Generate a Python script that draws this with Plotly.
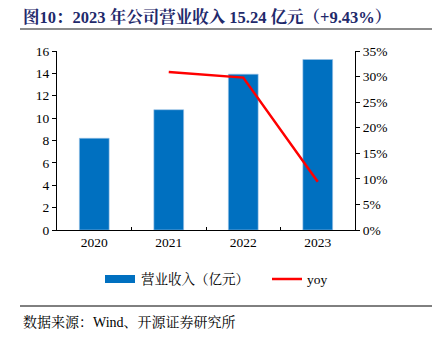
import plotly.graph_objects as go

years = ["2020", "2021", "2022", "2023"]
revenue = [8.2, 10.75, 13.93, 15.24]
yoy_years = ["2021", "2022", "2023"]
yoy = [0.309, 0.298, 0.0943]

bar_name = "营业收入（亿元）"
line_name = "yoy"
title_text = "图10：2023 年公司营业收入 15.24 亿元（+9.43%）"
source_text = "数据来源：Wind、开源证券研究所"

serif = "Liberation Serif, 'Noto Serif CJK SC', 'Noto Sans CJK SC', serif"
bar_color = "#0070C0"
line_color = "#FF0000"

fig = go.Figure()
fig.add_trace(go.Bar(
    x=years, y=revenue, name=bar_name,
    marker=dict(color=bar_color, line=dict(color="#9dc3e6", width=0.6)),
    width=0.4, yaxis="y", showlegend=False,
))
fig.add_trace(go.Scatter(
    x=yoy_years, y=yoy, name=line_name, mode="lines",
    line=dict(color=line_color, width=2.5), yaxis="y2", showlegend=False,
))

W, H = 439, 342
L, R, T, B = 57, 84, 51, 112
PW, PH = W - L - R, H - T - B


def px(x):
    return (x - L) / PW


def py(y):
    return (H - B - y) / PH


fig.update_layout(
    width=W, height=H,
    margin=dict(l=L, r=R, t=T, b=B, pad=0),
    paper_bgcolor="white", plot_bgcolor="white",
    font=dict(family=serif, size=13.5, color="#000"),
    bargap=0.6,
    xaxis=dict(type="category", showline=True, linecolor="#000", linewidth=1,
               ticks="inside", tickson="boundaries", ticklen=3, tickcolor="#000",
               showgrid=False, tickfont=dict(size=13.5)),
    yaxis=dict(range=[0, 16], dtick=2, showline=True, linecolor="#000", linewidth=1,
               ticks="outside", ticklen=4, tickcolor="#000", showgrid=False,
               zeroline=False, tickfont=dict(size=13.5)),
    yaxis2=dict(range=[0, 0.35], dtick=0.05, tickformat=".0%", overlaying="y", side="right",
                showline=True, linecolor="#000", linewidth=1, ticks="outside", ticklen=4,
                tickcolor="#000", showgrid=False, zeroline=False, tickfont=dict(size=13.5)),
    shapes=[
        dict(type="line", xref="paper", yref="paper", x0=px(20), x1=px(432),
             y0=py(29), y1=py(29), line=dict(color="#8c8c8c", width=2)),
        dict(type="line", xref="paper", yref="paper", x0=px(20), x1=px(432),
             y0=py(306), y1=py(306), line=dict(color="#000", width=1)),
        # legend markers
        dict(type="rect", xref="paper", yref="paper", x0=px(105), x1=px(135),
             y0=py(283), y1=py(275), fillcolor=bar_color, line=dict(width=0)),
        dict(type="line", xref="paper", yref="paper", x0=px(272), x1=px(302),
             y0=py(279), y1=py(279), line=dict(color=line_color, width=2.5)),
    ],
    annotations=[
        dict(text="<b>" + title_text + "</b>", xref="paper", yref="paper",
             x=px(21), y=py(17), xanchor="left", yanchor="middle", showarrow=False,
             font=dict(size=16.5, color="#1f2a6b", family=serif)),
        dict(text=source_text, xref="paper", yref="paper",
             x=px(21), y=py(322), xanchor="left", yanchor="middle", showarrow=False,
             font=dict(size=14, color="#000", family=serif)),
        dict(text=bar_name, xref="paper", yref="paper",
             x=px(139), y=py(279), xanchor="left", yanchor="middle", showarrow=False,
             font=dict(size=13.5, color="#000", family=serif)),
        dict(text=line_name, xref="paper", yref="paper",
             x=px(305), y=py(279), xanchor="left", yanchor="middle", showarrow=False,
             font=dict(size=13.5, color="#000", family=serif)),
    ],
)

fig.write_html("out.html")
